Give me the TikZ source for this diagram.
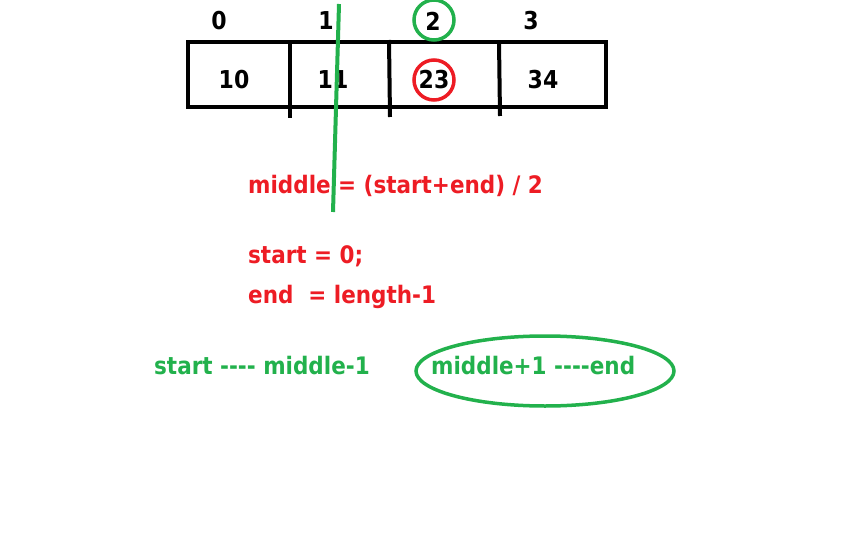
\documentclass[tikz,border=0pt]{standalone}
\usepackage{fontspec}
\usepackage{graphicx}
\setmainfont{DejaVu Sans}[Ligatures=TeXOff]
\usetikzlibrary{shapes.geometric}
\definecolor{pred}{HTML}{ED1C24}
\definecolor{pgreen}{HTML}{22B14C}
\newcommand{\tall}[1]{\scalebox{1}[1.12]{#1}}
\tikzset{
  txt/.style={font=\bfseries\fontsize{21.5}{26}\selectfont, inner sep=0pt},
  num/.style={font=\bfseries\fontsize{22}{26}\selectfont, inner sep=0pt},
  rtxt/.style={txt, text=pred, anchor=west},
  gtxt/.style={txt, text=pgreen, anchor=west},
  pen/.style={line width=4pt},
  gpen/.style={line width=3.5pt, draw=pgreen},
  rpen/.style={line width=3.5pt, draw=pred},
}
\begin{document}
\begin{tikzpicture}[x=1pt,y=-1pt]
\useasboundingbox (0,0) rectangle (864,540);
% array
\draw[pen] (188,42) rectangle (606,107);
\coordinate (d1t) at (290,42); \coordinate (d1b) at (290,118);
\coordinate (d2t) at (389,40); \coordinate (d2b) at (390,117);
\coordinate (d3t) at (499,42); \coordinate (d3b) at (500,116);
\draw[pen] (d1t) -- (d1b);
\draw[pen] (d2t) -- (d2b);
\draw[pen] (d3t) -- (d3b);
% indices
\node[num] (i0) at (219,21) {\tall{0}};
\node[num] (i1) at (326,21) {\tall{1}};
\node[num] (i2) at (433,21) {\tall{2}};
\node[num] (i3) at (531,21) {\tall{3}};
% values
\node[num] (v0) at (234,80) {\tall{10}};
\node[num] (v1) at (333,80) {\tall{11}};
\node[num] (v2) at (434,80) {\tall{23}};
\node[num] (v3) at (543,80) {\tall{34}};
% circles
\draw[gpen] (434,20) circle [radius=20];
\draw[rpen] (434,80) circle [radius=20];
% green divider line
\coordinate (gl1) at (339,4);
\coordinate (gl2) at (333,212);
\draw[gpen, line width=4pt] (gl1) -- (gl2);
% texts
\node[rtxt] (m) at (248,186) {\tall{middle = (start+end) / 2}};
\node[rtxt] (s) at (248,256) {\tall{start = 0;}};
\node[rtxt] (e) at (248,297) {\tall{end\ \ = length-1}};
\node[gtxt] (l) at (154,366) {\tall{start ---- middle-1}};
\node[gtxt] (r) at (431,366) {\tall{middle+1 ----end}};
\draw[gpen] (545,371) ellipse [x radius=129, y radius=35];
\end{tikzpicture}
\end{document}
